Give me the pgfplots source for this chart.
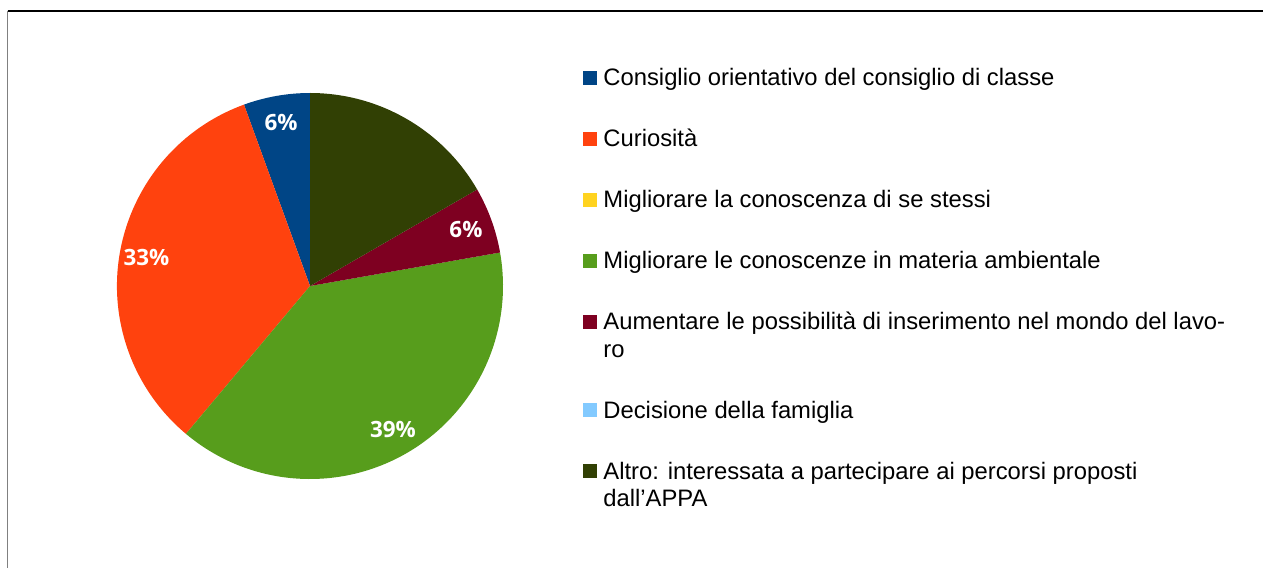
\documentclass[border=0pt]{standalone}
\usepackage{fontspec}
\setmainfont{Liberation Sans}
\newfontfamily\osans{Open Sans}
\usepackage{pgfplots}
\pgfplotsset{compat=1.18}
\definecolor{c1}{HTML}{004586}
\definecolor{c2}{HTML}{FF420E}
\definecolor{c3}{HTML}{FFD320}
\definecolor{c4}{HTML}{579D1C}
\definecolor{c5}{HTML}{7E0021}
\definecolor{c6}{HTML}{83CAFF}
\definecolor{c7}{HTML}{314004}
% slice: colour, cumulative count before, count (18 answers in all, 20 degrees each)
\newcommand{\slice}[3]{\fill[#1] (axis cs:0,0) -- (axis cs:{cos(90+#2*20)},{sin(90+#2*20)}) arc[start angle={90+#2*20}, delta angle={#3*20}, radius=96.5pt] -- cycle;}
\newcommand{\plabel}[2]{\node[text=white,font=\osans\bfseries\fontsize{11.2}{13}\selectfont] at (axis cs:{0.86*cos(#1)},{0.86*sin(#1)}) {#2};}
\newcommand{\twolines}[2]{\vtop{\hbox{\strut #1}\hbox{\strut #2}}}
\begin{document}
\begin{tikzpicture}[x=0.5pt,y=0.5pt]
\useasboundingbox (0,0) rectangle (1263,568);
\draw[line width=0.6pt,black] (7.5,557) -- (1263,557);
\draw[line width=0.7pt,gray] (7.5,557.3) -- (7.5,0);
\coordinate (pc) at (310,282);
\begin{axis}[at={(pc)}, anchor=center,
  width=193pt, height=193pt, scale only axis,
  xmin=-1, xmax=1, ymin=-1, ymax=1, hide axis, clip=false,
  legend image code/.code={\path[#1] (0pt,0.6pt) rectangle (7pt,7.6pt);},
  legend style={draw=none, fill=none, inner sep=0pt, outer sep=0pt,
    at={(axis description cs:1.2073,1.0679)}, anchor=north west,
    row sep=16.8pt, column sep=3.2pt,
    font=\fontsize{11.9}{13.7}\selectfont,
    nodes={inner sep=0pt, text depth=, text height=},
    cells={anchor=base west}},
]
\slice{c1}{0}{1}
\slice{c2}{1}{6}
\slice{c4}{7}{7}
\slice{c5}{14}{1}
\slice{c7}{15}{3}
\plabel{100}{6\%}
\plabel{170}{33\%}
\plabel{300}{39\%}
\plabel{20}{6\%}
\addlegendimage{fill=c1,draw=none}
\addlegendentry{\strut Consiglio orientativo del consiglio di classe}
\addlegendimage{fill=c2,draw=none}
\addlegendentry{\strut Curiosità}
\addlegendimage{fill=c3,draw=none}
\addlegendentry{\strut Migliorare la conoscenza di se stessi}
\addlegendimage{fill=c4,draw=none}
\addlegendentry{\strut Migliorare le conoscenze in materia ambientale}
\addlegendimage{fill=c5,draw=none}
\addlegendentry{\twolines{Aumentare le possibilità di inserimento nel mondo del lavo-}{ro}}
\addlegendimage{fill=c6,draw=none}
\addlegendentry{\strut Decisione della famiglia}
\addlegendimage{fill=c7,draw=none}
\addlegendentry{\twolines{Altro: interessata a partecipare ai percorsi proposti}{dall’APPA}}
\end{axis}
\end{tikzpicture}
\end{document}
